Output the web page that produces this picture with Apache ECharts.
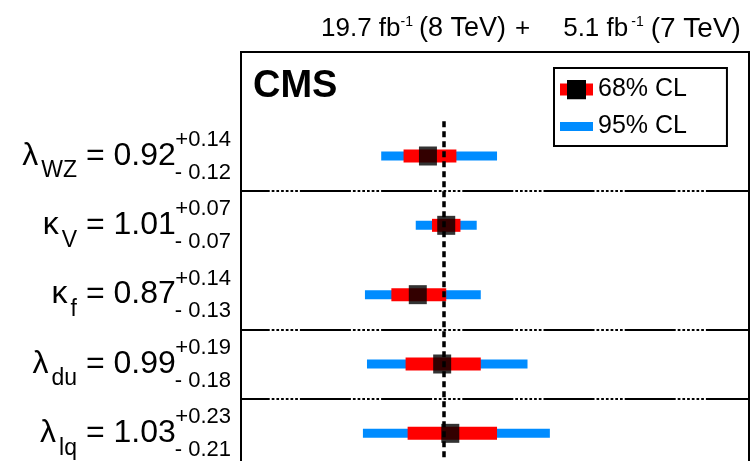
<!DOCTYPE html>
<html><head><meta charset="utf-8">
<script src="https://cdn.jsdelivr.net/npm/echarts@6/dist/echarts.min.js"></script>
<style>html,body{margin:0;padding:0;background:#fff}#c{width:755px;height:461px}</style>
</head><body><div id="c"></div>
<script>
// ---- data ----
const paramSymbols = ['λ', 'κ', 'κ', 'λ', 'λ'];
const paramSubs = ['WZ', 'V', 'f', 'du', 'lq'];
const central = [0.92, 1.01, 0.87, 0.99, 1.03];
const err68Up = [0.14, 0.07, 0.14, 0.19, 0.23];
const err68Down = [0.12, 0.07, 0.13, 0.18, 0.21];
const lo95 = [0.69, 0.86, 0.61, 0.62, 0.60];
const hi95 = [1.26, 1.16, 1.18, 1.41, 1.52];
const separators = [0.5, 2.5, 3.5];
const smValue = 1.0;
const legendNames = ['68% CL', '95% CL'];

const FONT = '"Liberation Sans", Arial, Helvetica, sans-serif';
const BLUE = '#008cff', RED = '#ff0000';
const rows = central.map((_, i) => i);

const mctx = document.createElement('canvas').getContext('2d');
function tw(text, size) { mctx.font = size + 'px "Liberation Sans"'; return mctx.measureText(text).width; }

function svgIcon(svg) { return 'image://data:image/svg+xml;charset=utf-8,' + encodeURIComponent(svg); }
const icon68 = svgIcon("<svg xmlns='http://www.w3.org/2000/svg' width='33' height='20'><rect x='0' y='4' width='33' height='12' fill='#ff0000'/><rect x='7' y='0' width='19' height='20' fill='#000000'/></svg>");
const icon95 = svgIcon("<svg xmlns='http://www.w3.org/2000/svg' width='33' height='20'><rect x='0' y='5.5' width='33' height='9' fill='" + BLUE + "'/></svg>");

function barRenderer(h, color) {
  return function (params, api) {
    const a = api.coord([api.value(0), api.value(2)]);
    const b = api.coord([api.value(1), api.value(2)]);
    return { type: 'rect', shape: { x: a[0], y: a[1] - h / 2, width: b[0] - a[0], height: h }, style: { fill: color } };
  };
}

function labelRenderer(params, api) {
  const i = params.dataIndex;
  const p = api.coord([0, api.value(1)]);
  const xr = p[0] - 10, cy = p[1];
  const up = '+' + err68Up[i].toFixed(2), dn = '- ' + err68Down[i].toFixed(2);
  const SS = 22, MS = 32, SB = 23;
  const W = Math.max(tw(up, SS), tw(dn, SS));
  const val = ' = ' + central[i].toFixed(2);
  const x1 = xr - W + 1;
  const x2 = x1 - tw(val, MS);
  const x3 = x2 - tw(paramSubs[i], SB);
  const t = (text, x, y, size) => ({ type: 'text', x: x, y: y, style: { text: text, fontSize: size, fontFamily: FONT, fill: '#000', align: 'right', verticalAlign: 'middle' } });
  return { type: 'group', children: [
    t(up, xr, cy - 16, SS), t(dn, xr, cy + 16.5, SS),
    t(val, x1, cy, MS), t(paramSubs[i], x2, cy + 15, SB), t(paramSymbols[i], x3 - 3, cy, MS)
  ] };
}

const sepDash = [51, 2, 2.7, 2, 2.7, 2, 2.7, 2, 2.7, 2, 2.7, 2, 2.7, 2];

const M = (size, pad) => ({ fontSize: size, lineHeight: 30, padding: [0, 0, 0, pad], fontFamily: FONT, color: '#000' });
const S = (pad) => ({ fontSize: 14, verticalAlign: 'top', padding: [1, 0, 0, pad], fontFamily: FONT, color: '#000' });

const chart = echarts.init(document.getElementById('c'), null, { renderer: 'canvas' });
chart.setOption({
  animation: false,
  backgroundColor: '#fff',
  textStyle: { fontFamily: FONT },
  title: [
    { text: '{a|19.7 fb}{s1|-1}{b|(8 TeV)}{p|+}{d|5.1 fb}{s2|-1}{e|(7 TeV)}', left: 321, top: 14, padding: 0,
      textStyle: { fontFamily: FONT, color: '#000', fontWeight: 'normal', rich: {
        a: M(26, 0), s1: S(0), b: M(27, 6), p: M(26, 9), d: M(26, 33), s2: S(3), e: M(28, 7)
      } } },
    { text: 'CMS', left: 253, top: 68, padding: 0,
      textStyle: { fontSize: 38, fontWeight: 'bold', fontFamily: FONT, color: '#000' } }
  ],
  legend: {
    left: 554, top: 68, orient: 'vertical', itemWidth: 33, itemHeight: 20, itemGap: 12,
    padding: [9, 40, 7, 6], borderColor: '#000', borderWidth: 2, selectedMode: false,
    textStyle: { fontSize: 25, fontFamily: FONT, color: '#000' },
    data: [{ name: legendNames[0], icon: icon68 }, { name: legendNames[1], icon: icon95 }]
  },
  grid: { left: 241, right: 6, top: 52, height: 416, outerBoundsMode: 'none', show: true, borderColor: '#000', borderWidth: 2, backgroundColor: 'transparent' },
  xAxis: { type: 'value', min: 0, max: 2.5, show: false },
  yAxis: { type: 'value', min: -1.5, max: 4.5, inverse: true, show: false },
  series: [
    { name: legendNames[1], type: 'custom', z: 2, clip: false, encode: { x: [0, 1], y: 2 },
      renderItem: barRenderer(9, BLUE), data: rows.map(i => [lo95[i], hi95[i], i]) },
    { name: legendNames[0], type: 'custom', z: 3, clip: false, encode: { x: [0, 1], y: 2 },
      renderItem: barRenderer(13, RED), data: rows.map(i => [central[i] - err68Down[i], central[i] + err68Up[i], i]) },
    { name: 'lines', type: 'line', z: 4, data: [], silent: true,
      markLine: { silent: true, symbol: 'none', z: 4, label: { show: false }, animation: false,
        data: [
          [{ coord: [smValue, -0.5], lineStyle: { color: '#000', width: 3.5, type: [6, 4] } }, { coord: [smValue, 4.5] }]
        ].concat(separators.map(v => ({ yAxis: v, lineStyle: { color: '#000', width: 2, type: sepDash, dashOffset: 22.3 } }))) } },
    { name: legendNames[0], type: 'scatter', z: 6, symbol: 'rect', symbolSize: [18, 19], itemStyle: { color: '#000' },
      data: rows.map(i => [central[i], i]) },
    { name: 'labels', type: 'custom', z: 7, clip: false, silent: true, encode: { x: 0, y: 1 },
      renderItem: labelRenderer, data: rows.map(i => [0, i]) }
  ]
});
</script>
</body></html>
